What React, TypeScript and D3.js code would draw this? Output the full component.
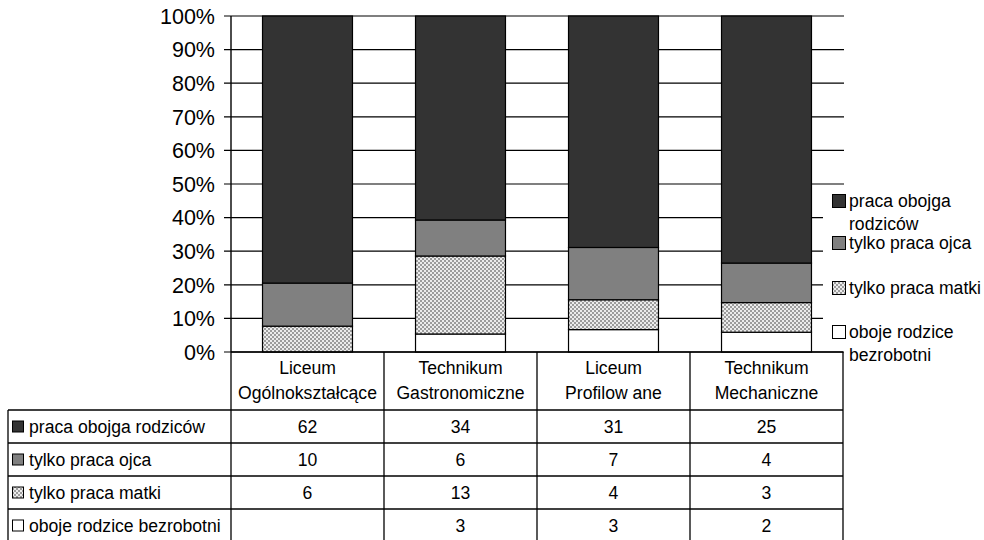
import React from "react";
import * as d3 from "d3";

const categories = [
  "Liceum Ogólnokształcące",
  "Technikum Gastronomiczne",
  "Liceum Profilow ane",
  "Technikum Mechaniczne",
];
const seriesNames = [
  "praca obojga rodziców",
  "tylko praca ojca",
  "tylko praca matki",
  "oboje rodzice bezrobotni",
];
const legendLines = [
  ["praca obojga", "rodziców"],
  ["tylko praca ojca"],
  ["tylko praca matki"],
  ["oboje rodzice", "bezrobotni"],
];
const obojga = [62, 34, 31, 25];
const ojca = [10, 6, 7, 4];
const matki = [6, 13, 4, 3];
const bezrobotni: (number | null)[] = [null, 3, 3, 2];
const yTicks = [0, 0.1, 0.2, 0.3, 0.4, 0.5, 0.6, 0.7, 0.8, 0.9, 1];

const seriesValues = [obojga, ojca, matki, bezrobotni];
const fills = ["#333333", "#808080", "url(#dots)", "#ffffff"];

const FONT = "'Liberation Sans', Arial, Helvetica, sans-serif";

export default function App() {
  const left = 231;
  const right = 843;
  const top = 16;
  const bottom = 352;

  const x = d3
    .scaleBand<string>()
    .domain(categories)
    .range([left, right])
    .paddingInner(0.412)
    .paddingOuter(0.206);
  const step = x.step();
  const y = d3.scaleLinear().domain([0, 1]).range([bottom, top]);

  const rows = categories.map((c, i) => ({
    cat: c,
    bezrobotni: bezrobotni[i] ?? 0,
    matki: matki[i],
    ojca: ojca[i],
    obojga: obojga[i],
  }));
  const stackKeys = ["bezrobotni", "matki", "ojca", "obojga"];
  const stackFill: Record<string, string> = {
    bezrobotni: fills[3],
    matki: fills[2],
    ojca: fills[1],
    obojga: fills[0],
  };
  const stacked = d3
    .stack<any>()
    .keys(stackKeys)
    .offset(d3.stackOffsetExpand)(rows);

  const headerBottom = 410;
  const rowH = 33;
  const tableLeft = 8;
  const fs = 17.6;

  return (
    <svg
      width={984}
      height={540}
      style={{ position: "absolute", left: 0, top: 0, background: "#fff" }}
      fontFamily={FONT}
    >
      <defs>
        <pattern id="dots" x={0} y={0} width={4} height={4} patternUnits="userSpaceOnUse">
          <rect width={4} height={4} fill="#ececec" />
          <rect x={0} y={0} width={2} height={2} fill="#9c9c9c" />
          <rect x={2} y={2} width={2} height={2} fill="#9c9c9c" />
        </pattern>
      </defs>
      <rect width={984} height={540} fill="#fff" />

      {/* gridlines */}
      {yTicks.map((t) => (
        <line
          key={t}
          x1={left - 7}
          x2={right + 1}
          y1={y(t)}
          y2={y(t)}
          stroke="#000"
          strokeWidth={1.2}
        />
      ))}
      {/* y labels */}
      {yTicks.map((t) => (
        <text
          key={"l" + t}
          x={215}
          y={y(t)}
          dy="0.36em"
          textAnchor="end"
          fontSize={21.5}
        >
          {d3.format(".0%")(t)}
        </text>
      ))}
      {/* y axis */}
      <line x1={left} x2={left} y1={top} y2={bottom} stroke="#000" strokeWidth={1.4} />

      {/* bars */}
      {stacked.map((layer) =>
        layer.map((d, i) => {
          const h = y(d[0]) - y(d[1]);
          if (h <= 0) return null;
          return (
            <rect
              key={layer.key + i}
              x={x(categories[i])}
              y={y(d[1])}
              width={x.bandwidth()}
              height={h}
              fill={stackFill[layer.key]}
              stroke="#000"
              strokeWidth={1.2}
            />
          );
        })
      )}

      {/* legend box */}
      <rect x={823} y={192} width={161} height={157} fill="#fff" />
      {legendLines.map((lines, i) => {
        const cy = [201, 243, 288, 332][i];
        return (
          <g key={"lg" + i}>
            <rect
              x={832.5}
              y={cy - 6.5}
              width={13}
              height={13}
              fill={fills[i]}
              stroke="#000"
              strokeWidth={1}
            />
            {lines.map((ln, j) => (
              <text key={j} x={849} y={cy + j * 22.5} dy="0.36em" fontSize={fs}>
                {ln}
              </text>
            ))}
          </g>
        );
      })}

      {/* table */}
      <line x1={left} x2={right} y1={bottom} y2={bottom} stroke="#000" strokeWidth={1.4} />
      {d3.range(categories.length + 1).map((i) => (
        <line
          key={"v" + i}
          x1={left + i * step}
          x2={left + i * step}
          y1={bottom}
          y2={540}
          stroke="#000"
          strokeWidth={1.3}
        />
      ))}
      <line x1={tableLeft} x2={tableLeft} y1={headerBottom} y2={540} stroke="#000" strokeWidth={1.3} />
      {d3.range(5).map((r) => (
        <line
          key={"h" + r}
          x1={tableLeft}
          x2={right}
          y1={headerBottom + r * rowH}
          y2={headerBottom + r * rowH}
          stroke="#000"
          strokeWidth={1.3}
        />
      ))}
      {categories.map((c, i) => {
        const idx = c.indexOf(" ");
        const l1 = c.slice(0, idx);
        const l2 = c.slice(idx + 1);
        const cx = left + (i + 0.5) * step;
        return (
          <g key={"c" + i}>
            <text x={cx} y={368} dy="0.36em" textAnchor="middle" fontSize={fs}>
              {l1}
            </text>
            <text x={cx} y={393} dy="0.36em" textAnchor="middle" fontSize={fs}>
              {l2}
            </text>
          </g>
        );
      })}
      {seriesNames.map((s, r) => {
        const cy = headerBottom + (r + 0.5) * rowH;
        return (
          <g key={"r" + r}>
            <rect
              x={12.5}
              y={cy - 5.5}
              width={11}
              height={11}
              fill={fills[r]}
              stroke="#000"
              strokeWidth={1}
            />
            <text x={29} y={cy} dy="0.36em" fontSize={fs}>
              {s}
            </text>
            {seriesValues[r].map((v, i) =>
              v == null ? null : (
                <text
                  key={i}
                  x={left + (i + 0.5) * step}
                  y={cy}
                  dy="0.36em"
                  textAnchor="middle"
                  fontSize={fs}
                >
                  {v}
                </text>
              )
            )}
          </g>
        );
      })}
    </svg>
  );
}
